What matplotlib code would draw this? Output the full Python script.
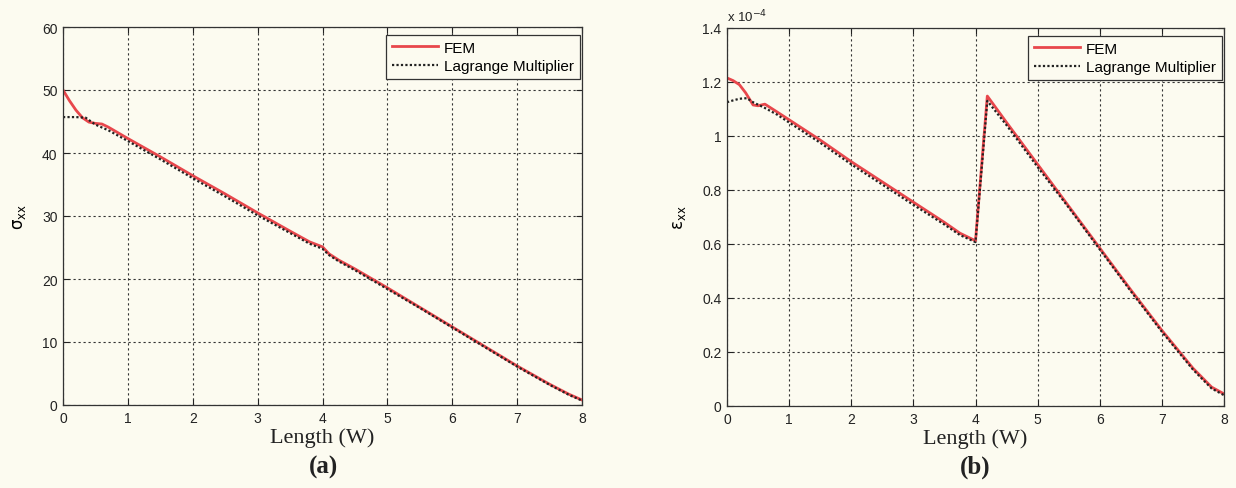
import numpy as np
import matplotlib.pyplot as plt
from matplotlib.ticker import FuncFormatter

# stress along the length, FEM vs Lagrange multiplier
x_sig_fem = [0, 0.1, 0.2, 0.3, 0.4, 0.5, 0.6, 0.7, 1.0, 1.5, 2.0, 2.5, 3.0, 3.5,
             3.8, 4.0, 4.1, 4.25, 4.5, 5.0, 5.5, 6.0, 6.5, 7.0, 7.5, 7.8, 8.0]
sig_fem = [50.0, 48.3, 46.8, 45.6, 44.9, 44.7, 44.6, 44.1, 42.3, 39.4, 36.4, 33.5,
           30.5, 27.6, 25.9, 25.1, 24.0, 23.0, 21.6, 18.6, 15.5, 12.4, 9.3, 6.2,
           3.3, 1.7, 0.8]
x_sig_lm = [0, 0.2, 0.35, 0.5, 0.7, 1.0, 1.5, 2.0, 2.5, 3.0, 3.5, 3.8, 4.0, 4.1,
            4.25, 4.5, 5.0, 5.5, 6.0, 6.5, 7.0, 7.5, 7.8, 8.0]
sig_lm = [45.7, 45.7, 45.6, 44.5, 43.6, 41.9, 39.0, 36.0, 33.1, 30.1, 27.3, 25.6,
          24.8, 23.8, 22.8, 21.4, 18.4, 15.4, 12.3, 9.2, 6.1, 3.2, 1.6, 0.7]

# strain along the length (units of 1e-4)
x_eps_fem = [0, 0.1, 0.2, 0.3, 0.42, 0.5, 0.61, 0.8, 1.0, 1.5, 2.0, 2.5, 3.0, 3.5,
             3.75, 4.0, 4.19, 4.5, 5.0, 5.5, 6.0, 6.5, 7.0, 7.5, 7.8, 8.0]
eps_fem = [1.215, 1.205, 1.19, 1.16, 1.115, 1.112, 1.118, 1.09, 1.06, 0.985, 0.905,
           0.83, 0.755, 0.68, 0.64, 0.612, 1.148, 1.05, 0.895, 0.74, 0.585, 0.43,
           0.28, 0.14, 0.07, 0.045]
x_eps_lm = [0, 0.1, 0.2, 0.32, 0.42, 0.6, 0.8, 1.0, 1.5, 2.0, 2.5, 3.0, 3.5, 3.75,
            4.0, 4.19, 4.5, 5.0, 5.5, 6.0, 6.5, 7.0, 7.5, 7.8, 8.0]
eps_lm = [1.125, 1.132, 1.138, 1.14, 1.125, 1.105, 1.08, 1.05, 0.975, 0.895, 0.82,
          0.745, 0.672, 0.633, 0.607, 1.13, 1.04, 0.885, 0.735, 0.58, 0.425, 0.275,
          0.135, 0.065, 0.04]

bg = '#fcfbf0'
red = '#e8474c'
tick_font = 'Liberation Sans'
serif = 'Liberation Serif'

fig = plt.figure(figsize=(12.36, 4.89), dpi=100, facecolor=bg)


def setup(ax, ymax, ystep):
    ax.set_facecolor(bg)
    ax.set_xlim(0, 8)
    ax.set_ylim(0, ymax)
    ax.set_xticks(range(0, 9))
    ax.set_yticks(np.arange(0, ymax + ystep / 2, ystep))
    ax.yaxis.set_major_formatter(FuncFormatter(lambda v, p: '%g' % round(v, 6)))
    ax.grid(True, color='#333333', linestyle=(0, (2, 2.5)), linewidth=0.8)
    ax.tick_params(direction='in', top=True, right=True, length=4, width=0.8,
                   labelsize=10, pad=4, colors='#222222')
    for lbl in ax.get_xticklabels() + ax.get_yticklabels():
        lbl.set_fontfamily(tick_font)
    for s in ax.spines.values():
        s.set_color('#333333')
        s.set_linewidth(0.9)
    ax.set_xlabel('Length (W)', fontfamily=serif, fontsize=16, labelpad=2,
                  color='#222222')


ax1 = fig.add_axes([63 / 1236, 83 / 489, 519 / 1236, 378 / 489])
setup(ax1, 60, 10)
ax1.plot(x_sig_fem, sig_fem, color=red, linewidth=2, label='FEM')
ax1.plot(x_sig_lm, sig_lm, color='#222222', linestyle=(0, (1, 1)), linewidth=1.6,
         label='Lagrange Multiplier')
ax1.set_ylabel(r'$\mathrm{\sigma_{xx}}$', fontsize=12, labelpad=10)

ax2 = fig.add_axes([727 / 1236, 82 / 489, 497 / 1236, 378 / 489])
setup(ax2, 1.4, 0.2)
ax2.plot(x_eps_fem, eps_fem, color=red, linewidth=2, label='FEM')
ax2.plot(x_eps_lm, eps_lm, color='#222222', linestyle=(0, (1, 1)), linewidth=1.6,
         label='Lagrange Multiplier')
ax2.set_ylabel(r'$\mathrm{\varepsilon_{xx}}$', fontsize=12, labelpad=10)
ax2.text(0, 1.01, r'x 10$^{-4}$', transform=ax2.transAxes, fontsize=9.5,
         fontfamily=tick_font, va='bottom', ha='left', color='#222222')

for ax in (ax1, ax2):
    leg = ax.legend(loc='upper right', bbox_to_anchor=(0.996, 0.98), frameon=True,
                    fancybox=False, framealpha=1, edgecolor='#333333',
                    prop={'family': tick_font, 'size': 11}, handlelength=3.0,
                    borderpad=0.4, labelspacing=0.3, handletextpad=0.4,
                    borderaxespad=0.0)
    leg.get_frame().set_facecolor(bg)
    leg.get_frame().set_linewidth(0.9)

fig.text(324 / 1236, 1 - 467 / 489, '(a)', fontfamily=serif, fontweight='bold',
         fontsize=18, ha='center', va='center', color='#222222')
fig.text(975 / 1236, 1 - 467 / 489, '(b)', fontfamily=serif, fontweight='bold',
         fontsize=18, ha='center', va='center', color='#222222')

fig.savefig('out.png', dpi=100, facecolor=bg)
